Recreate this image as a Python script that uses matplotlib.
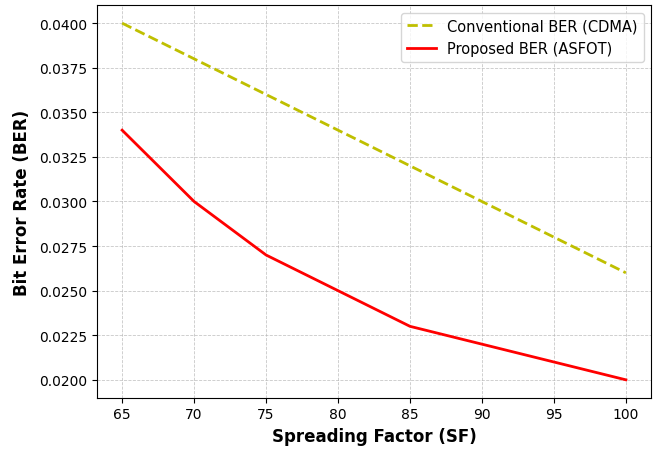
import matplotlib
matplotlib.use("Agg")
import matplotlib.pyplot as plt
import numpy as np

# spreading factor values and BER for both schemes
sf = [65, 70, 75, 80, 85, 90, 95, 100]
ber_cdma = [0.040, 0.038, 0.036, 0.034, 0.032, 0.030, 0.028, 0.026]
ber_asfot = [0.034, 0.030, 0.027, 0.025, 0.023, 0.022, 0.021, 0.020]

fig, ax = plt.subplots(figsize=(6.55, 4.52), dpi=100)
fig.subplots_adjust(left=0.148, right=0.994, top=0.986, bottom=0.118)

ax.plot(sf, ber_cdma, linestyle='--', color='y', linewidth=2, label='Conventional BER (CDMA)')
ax.plot(sf, ber_asfot, linestyle='-', color='r', linewidth=2, label='Proposed BER (ASFOT)')

ax.set_xlabel('Spreading Factor (SF)', fontsize=12, fontweight='bold')
ax.set_ylabel('Bit Error Rate (BER)', fontsize=12, fontweight='bold', labelpad=6)
ax.set_yticks(np.arange(0.02, 0.04001, 0.0025))
ax.yaxis.set_major_formatter(matplotlib.ticker.FormatStrFormatter('%.4f'))
ax.grid(True, linestyle='--', linewidth=0.6, alpha=0.7)
ax.legend(fontsize=10.5)

fig.savefig('out.png')
